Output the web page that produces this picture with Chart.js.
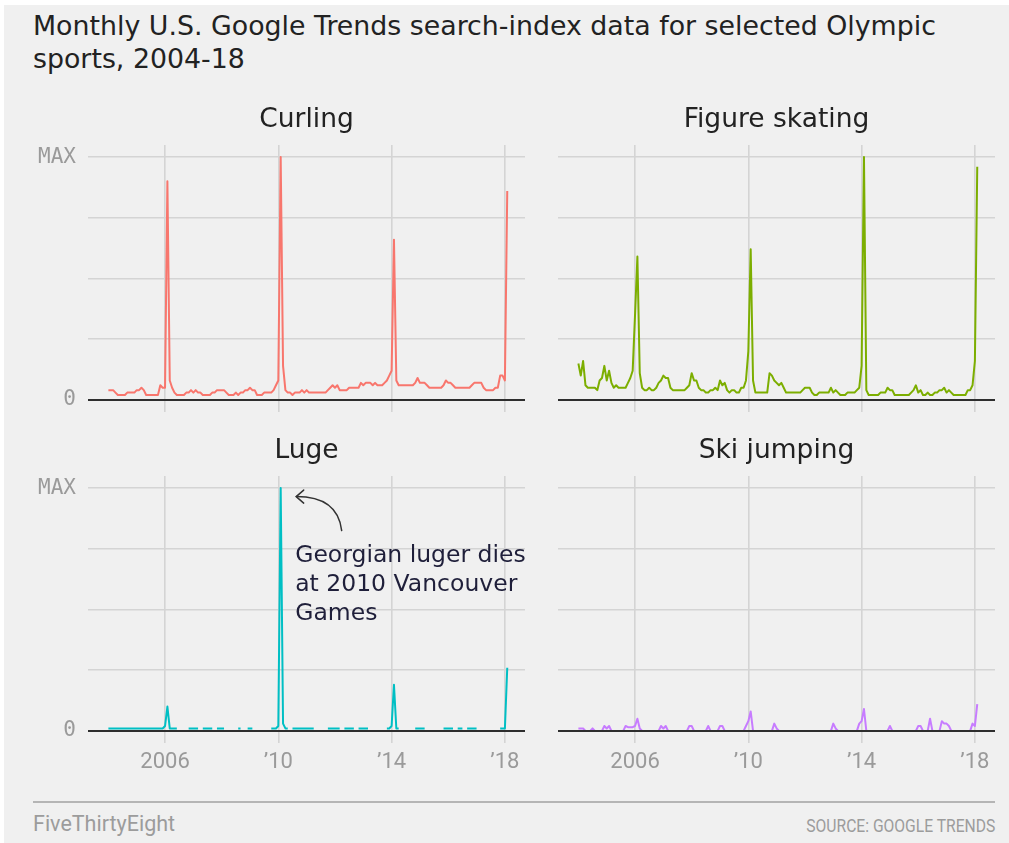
<!DOCTYPE html>
<html>
<head>
<meta charset="utf-8">
<script src="https://cdn.jsdelivr.net/npm/chart.js@4.4.1/dist/chart.umd.min.js"></script>
<style>
  html, body { margin: 0; padding: 0; background: #ffffff; width: 1009px; height: 843px; overflow: hidden; }
  #bg { position: absolute; left: 4px; top: 5px; right: 0; bottom: 0; background: #f0f0f0; }
  canvas { position: absolute; }
  #title { position: absolute; left: 33px; top: 10px; width: 970px; font-family: 'DejaVu Sans', sans-serif; font-size: 26.8px; line-height: 32.5px; color: #222; white-space: nowrap; }
  #rule { position: absolute; left: 33px; top: 801px; width: 962px; height: 2px; background: #b5b5b5; }
  #brand { position: absolute; left: 33px; top: 813px; font-family: Roboto, sans-serif; font-size: 21.5px; line-height: 21px; color: #9c9c9c; white-space: nowrap; }
  #source { position: absolute; right: 14px; top: 817px; font-family: Roboto, sans-serif; font-size: 18px; line-height: 18px; color: #9c9c9c; white-space: nowrap; transform-origin: right center; }
</style>
</head>
<body>
<div id="bg"></div>
<div id="title">Monthly U.S. Google Trends search-index data for selected Olympic<br>sports, 2004-18</div>
<canvas id="c1" width="530" height="317" style="left:0px;top:95px"></canvas>
<canvas id="c2" width="479" height="317" style="left:530px;top:95px"></canvas>
<canvas id="c3" width="530" height="352" style="left:0px;top:426px"></canvas>
<canvas id="c4" width="479" height="352" style="left:530px;top:426px"></canvas>
<div id="rule"></div>
<div id="brand">FiveThirtyEight</div>
<div id="source">SOURCE: GOOGLE TRENDS</div>
<script>
// ---------- data ----------
const panelTitles = ['Curling', 'Figure skating', 'Luge', 'Ski jumping'];
const seriesColors = ['#F8766D', '#7CAE00', '#00BFC4', '#C77CFF'];

const xTickValues = [2006, 2010, 2014, 2018];
const xTickLabels = ['2006', '\u201910', '\u201914', '\u201918'];
const yTickValues = [0, 25, 50, 75, 100];
const yTickLabels = ['0', '', '', '', 'MAX'];

const noteLines = ['Georgian luger dies', 'at 2010 Vancouver', 'Games'];

// monthly categories Jan 2004 .. Feb 2018
const months = [];
for (let y = 2004; y <= 2018; y++) {
  for (let m = 1; m <= 12; m++) {
    if (y === 2018 && m > 2) break;
    months.push(y + '-' + String(m).padStart(2, '0'));
  }
}

const curling = [
  4,4,4,3,2,2,2,2,3,3,3,3,
  4,4,5,4,2,2,2,2,2,2,6,5,
  5,90,8,5,3,2,2,2,2,3,3,4,
  3,4,3,3,2,2,2,2,3,3,4,4,
  4,4,3,2,2,2,3,2,3,3,4,4,
  5,4,4,2,2,2,3,3,3,3,4,6,
  8,100,14,4,3,3,2,3,3,3,4,3,
  4,3,3,3,3,3,3,3,3,4,5,6,
  5,6,4,4,4,4,5,5,5,5,5,7,
  6,7,7,7,6,7,6,6,6,7,8,10,
  12,66,8,6,6,6,6,6,6,6,7,9,
  7,7,7,6,5,5,5,5,5,5,6,8,
  7,7,6,5,5,5,5,5,5,5,6,7,
  7,7,7,5,4,4,4,4,5,5,10,10,
  8,86
];

const figureSkating = [
  15,10,16,6,5,5,5,5,4,8,9,14,
  8,12,7,5,6,5,5,5,5,7,9,12,
  35,59,11,5,4,4,5,4,4,5,7,8,
  10,9,9,5,4,4,4,4,4,4,5,6,
  11,8,8,5,4,4,3,3,4,4,5,4,
  8,6,7,4,3,4,4,3,3,5,5,8,
  20,62,8,3,3,3,3,3,3,11,10,8,
  7,6,7,5,3,3,3,3,3,3,3,4,
  5,5,5,3,2,2,3,3,3,3,3,5,
  3,4,3,2,2,2,3,3,3,3,4,5,
  14,100,4,2,2,2,2,2,3,3,3,5,
  4,4,2,2,2,2,2,2,2,3,4,6,
  3,4,2,2,3,2,2,3,3,4,4,5,
  3,4,3,2,2,2,2,2,2,4,4,6,
  16,96
];

const _ = null; // "<1" months, no value shown
const luge = [
  1,1,1,1,1,1,1,1,1,1,1,1,
  1,1,1,1,1,1,1,1,1,1,1,1,
  2,10,1,1,1,1,_,_,_,_,1,1,
  1,1,1,_,1,1,1,1,1,_,1,1,
  1,1,_,_,_,_,_,1,1,_,_,1,
  1,1,_,_,_,_,_,_,_,1,1,1,
  2,100,3,1,1,_,1,1,1,1,1,1,
  1,1,1,1,_,_,_,_,_,1,1,1,
  1,1,1,_,1,1,1,1,1,_,1,1,
  1,1,1,_,_,_,_,_,_,_,1,1,
  2,19,1,1,_,_,_,_,_,_,1,1,
  1,1,1,_,_,_,_,_,_,_,1,1,
  1,1,1,_,1,1,1,_,1,1,1,1,
  1,_,_,_,_,_,_,_,_,_,1,1,
  1,26
];

const skiJumping = [
  1,1,1,0,_,0,1,0,_,_,0,2,
  1,2,0,_,_,_,_,0,2,1.5,1.5,1.5,
  2,5,1,0,_,_,_,_,_,_,0,2,
  1,2,0,_,_,_,_,_,_,_,0,2,
  2,0,_,_,_,_,0,2,0,_,_,0,
  2,2,0,_,_,_,_,_,_,_,0,2,
  4,8,0,_,_,_,_,_,_,_,0,3,
  1,0,_,_,_,_,_,_,_,_,_,_,
  _,_,_,_,_,_,_,_,_,_,_,0,
  3,1,0,_,_,_,_,_,_,_,0,3,
  4,9,0,_,_,_,_,_,_,_,_,0,
  2,0,_,_,_,_,_,_,_,_,_,0,
  2,2,0,_,0,5,0,_,_,0,4,3,
  3,2,0,_,_,_,_,_,_,_,0,3,
  2,11
];

// ---------- helpers ----------
const X_MIN = 2003.28, X_MAX = 2018.71;
const Y_MIN = -5, Y_MAX = 105;
const GRID = '#d4d4d4';
const monthToYear = s => { const p = s.split('-').map(Number); return p[0] + (p[1] - 1) / 12; };

const lugeNote = {
  id: 'lugeNote',
  afterDraw(chart) {
    const { ctx } = chart;
    const xs = chart.scales.x, ys = chart.scales.y;
    const vals = luge.map(v => v === null ? -1 : v);
    const i = vals.indexOf(Math.max(...vals));
    const px = xs.getPixelForValue(monthToYear(months[i]));
    const py = ys.getPixelForValue(luge[i]);
    const tipX = px + 15.5, tipY = py + 8.5;
    ctx.save();
    ctx.strokeStyle = '#333';
    ctx.lineWidth = 1.5;
    ctx.lineCap = 'round';
    ctx.lineJoin = 'round';
    ctx.beginPath();
    ctx.moveTo(px + 61, py + 42.5);
    ctx.quadraticCurveTo(px + 57, tipY, tipX, tipY);
    ctx.stroke();
    ctx.beginPath();
    ctx.moveTo(tipX + 7.5, tipY - 6.5);
    ctx.lineTo(tipX, tipY);
    ctx.lineTo(tipX + 7.5, tipY + 6.5);
    ctx.stroke();
    ctx.fillStyle = '#1f1f3a';
    ctx.font = '23.5px "DejaVu Sans"';
    ctx.textAlign = 'left';
    ctx.textBaseline = 'alphabetic';
    noteLines.forEach((t, k) => ctx.fillText(t, tipX - 1, py + 74 + k * 29));
    ctx.restore();
  }
};

function makePanel(id, title, values, color, showY, showX, extraPlugins) {
  return new Chart(document.getElementById(id), {
    type: 'line',
    data: {
      datasets: [{
        data: values.map((v, i) => ({ x: monthToYear(months[i]), y: v })),
        borderColor: color,
        borderWidth: 2,
        pointRadius: 0,
        tension: 0,
        borderJoinStyle: 'round',
        spanGaps: false,
        fill: false
      }]
    },
    options: {
      responsive: false,
      animation: false,
      events: [],
      layout: { padding: { top: 10, right: showY ? 5 : 14, bottom: 0, left: 0 } },
      plugins: {
        legend: { display: false },
        tooltip: { enabled: false },
        title: {
          display: true, text: title, color: '#222',
          font: { family: 'DejaVu Sans', size: 26.5, weight: 'normal', lineHeight: 1.13 },
          padding: { top: 0, bottom: 10 }, fullSize: false
        }
      },
      scales: {
        x: {
          type: 'linear', min: X_MIN, max: X_MAX,
          afterBuildTicks: ax => { ax.ticks = xTickValues.map(v => ({ value: v })); },
          afterFit: ax => { ax.height = showX ? 35 : 0; ax.paddingLeft = 0; ax.paddingRight = 0; },
          grid: { color: GRID, lineWidth: 1.6, drawTicks: false, tickLength: 0 },
          border: { display: false },
          ticks: {
            display: showX, autoSkip: false, maxRotation: 0, minRotation: 0, padding: 6,
            color: '#9a9a9a', font: { family: 'Roboto', size: 22 },
            callback: v => { const k = xTickValues.indexOf(v); return k >= 0 ? xTickLabels[k] : ''; }
          }
        },
        y: {
          type: 'linear', min: Y_MIN, max: Y_MAX, position: 'left',
          afterBuildTicks: ax => { ax.ticks = yTickValues.map(v => ({ value: v })); },
          afterFit: ax => { ax.width = showY ? 88 : 28; ax.paddingTop = 0; ax.paddingBottom = 0; },
          grid: {
            color: c => (c.tick && c.tick.value === 0) ? 'rgba(0,0,0,0)' : GRID,
            lineWidth: 1.6, drawTicks: false, tickLength: 0
          },
          border: { display: false },
          ticks: {
            display: showY, padding: 12, color: '#9a9a9a',
            font: { family: 'DejaVu Sans Mono', size: 21 },
            callback: v => { const k = yTickValues.indexOf(v); return k >= 0 ? yTickLabels[k] : ''; }
          }
        },
        zero: {
          type: 'linear', min: Y_MIN, max: Y_MAX, position: 'left',
          afterBuildTicks: ax => { ax.ticks = [{ value: 0 }]; },
          afterFit: ax => { ax.width = 0; ax.paddingTop = 0; ax.paddingBottom = 0; },
          grid: { z: 1, color: '#2e2e2e', lineWidth: 2, drawTicks: false, tickLength: 0 },
          border: { display: false },
          ticks: { display: false }
        }
      }
    },
    plugins: extraPlugins || []
  });
}

makePanel('c1', panelTitles[0], curling, seriesColors[0], true, false);
makePanel('c2', panelTitles[1], figureSkating, seriesColors[1], false, false);
makePanel('c3', panelTitles[2], luge, seriesColors[2], true, true, [lugeNote]);
makePanel('c4', panelTitles[3], skiJumping, seriesColors[3], false, true);

// condensed source line
const src = document.getElementById('source');
const w = src.getBoundingClientRect().width;
src.style.transform = 'scaleX(' + (189 / w).toFixed(3) + ')';
</script>
</body>
</html>
